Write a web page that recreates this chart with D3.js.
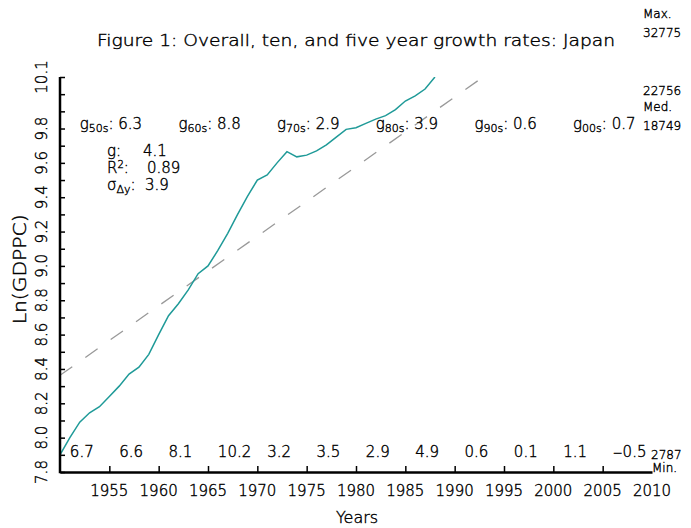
<!DOCTYPE html>
<html><head><meta charset="utf-8">
<script src="https://cdn.jsdelivr.net/npm/d3@7/dist/d3.min.js"></script>
<style>
html,body{margin:0;padding:0;background:#fff;}
svg{display:block;font-family:"DejaVu Sans",sans-serif;font-weight:200;}
svg text{fill:#000;stroke:#000;stroke-width:0.4px;}
</style></head>
<body><svg id="chart" width="691" height="528"></svg>
<script>
// ---- data ----
const years = [1950,1951,1952,1953,1954,1955,1956,1957,1958,1959,1960,1961,1962,1963,1964,1965,1966,1967,1968,1969,1970,1971,1972,1973,1974,1975,1976,1977,1978,1979,1980,1981,1982,1983,1984,1985,1986,1987,1988];
const lnGdppc = [7.90,8.00,8.09,8.145,8.18,8.24,8.30,8.37,8.41,8.485,8.60,8.71,8.78,8.86,8.955,9.00,9.09,9.19,9.30,9.405,9.50,9.53,9.60,9.665,9.635,9.645,9.67,9.705,9.75,9.795,9.805,9.83,9.855,9.875,9.91,9.96,9.99,10.03,10.10];
const trendIntercept = 8.363;   // fitted value in 1950
const trendSlope = 0.0405;      // per year
const decadeNames = ["50s","60s","70s","80s","90s","00s"];
const decadeGrowth = ["6.3","8.8","2.9","3.9","0.6","0.7"];
const fiveYearGrowth = ["6.7","6.6","8.1","10.2","3.2","3.5","2.9","4.9","0.6","0.1","1.1","\u22120.5"];
const statNames = ["g", "R2", "sigma"];
const statValues = ["4.1","0.89","3.9"];
const xTickYears = [1955,1960,1965,1970,1975,1980,1985,1990,1995,2000,2005,2010];
const yTickLabels = ["7.8","8.0","8.2","8.4","8.6","8.8","9.0","9.2","9.4","9.6","9.8","10.1"];
const summaryLabels = ["Max.","Med.","Min."];
const summaryValues = [32775, 18749, 2787];
const extraValue = 22756;
const titleText = "Figure 1: Overall, ten, and five year growth rates: Japan";

// ---- layout ----
const svg = d3.select("#chart");
const x = d3.scaleLinear().domain([1950,2010]).range([60,652]);
const y = d3.scaleLinear().domain([7.8,10.1]).range([472,77]);
const teal = "#1f9a98";

svg.append("rect").attr("width",691).attr("height",528).attr("fill","#fff");

svg.append("defs").append("clipPath").attr("id","plotclip")
  .append("rect").attr("x",x(1950)).attr("y",y(10.1)).attr("width",x(2010)-x(1950)).attr("height",y(7.8)-y(10.1));

// title
svg.append("text").attr("x",356).attr("y",46).attr("text-anchor","middle")
  .attr("font-size",16).attr("textLength",518).attr("lengthAdjust","spacingAndGlyphs")
  .text(titleText);

// trend line
const trendYears = [1950, 2010];
svg.append("path")
  .datum(trendYears)
  .attr("clip-path","url(#plotclip)")
  .attr("d", d3.line().x(d=>x(d)).y(d=>y(trendIntercept + trendSlope*(d-1950))))
  .attr("fill","none").attr("stroke","#999").attr("stroke-width",1.3)
  .attr("stroke-dasharray","15,16");

// data line
svg.append("path")
  .datum(years.map((yr,i)=>[yr,lnGdppc[i]]))
  .attr("clip-path","url(#plotclip)")
  .attr("d", d3.line().x(d=>x(d[0])).y(d=>y(d[1])))
  .attr("fill","none").attr("stroke",teal).attr("stroke-width",1.5);

// y axis ticks (every 0.1)
const yTickVals = d3.range(78,102).map(v=>v/10);
const yAxis = d3.axisLeft(y).tickValues(yTickVals).tickSizeInner(-5).tickSizeOuter(0).tickFormat("");
const gy = svg.append("g").attr("transform",`translate(${x(1950)},0)`).call(yAxis);
gy.selectAll(".tick line").attr("stroke","#000").attr("stroke-width",1.5);
gy.select(".domain").attr("stroke","#000").attr("stroke-width",2.5);
gy.select(".domain").attr("d",`M0,${y(7.8)+1.2}V${y(10.1)}`);

// y tick labels (rotated)
svg.append("g").selectAll("text").data(yTickLabels).join("text")
  .attr("transform",d=>`translate(47,${y(+d)}) rotate(-90)`)
  .attr("text-anchor","middle").attr("font-size",15).text(d=>d);

// y title
svg.append("text").attr("transform",`translate(26,${y(8.98)}) rotate(-90)`)
  .attr("text-anchor","middle").attr("font-size",17)
  .attr("textLength",110).attr("lengthAdjust","spacingAndGlyphs").text("Ln(GDPPC)");

// x axis
const xAxis = d3.axisBottom(x).tickValues(xTickYears.filter(v=>v<2010)).tickSizeInner(-6).tickSizeOuter(0).tickFormat("");
const gx = svg.append("g").attr("transform",`translate(0,${y(7.8)})`).call(xAxis);
gx.selectAll(".tick line").attr("stroke","#000").attr("stroke-width",1.5);
gx.select(".domain").attr("stroke","#000").attr("stroke-width",2.5);

svg.append("g").selectAll("text").data(xTickYears).join("text")
  .attr("x",d=>x(d)).attr("y",496).attr("text-anchor","middle").attr("font-size",15).text(d=>d);
svg.append("text").attr("x",357).attr("y",523).attr("text-anchor","middle").attr("font-size",16).text("Years");

// decade growth labels
const dec = svg.append("g").selectAll("text").data(decadeNames).join("text")
  .attr("x",(d,i)=>x(1952+10*i)).attr("y",129).attr("font-size",15);
dec.append("tspan").text("g");
dec.append("tspan").attr("font-size",11).attr("dy",3).text(d=>d);
dec.append("tspan").attr("dy",-3).text((d,i)=>": "+decadeGrowth[i]);

// five-year growth labels
const fy = svg.append("g").selectAll("text").data(fiveYearGrowth).join("text")
  .attr("x",(d,i)=>x(1951+5*i)).attr("y",457).attr("font-size",15);
fy.each(function(d){
  const t = d3.select(this);
  if (d.startsWith("\u2212")) {
    t.append("tspan").attr("font-size",12).text("\u2212");
    t.append("tspan").text(d.slice(1));
  } else t.text(d);
});

// stats block
const statY = [156, 173, 190];
const statX = 107;
const sg = svg.append("g").attr("font-size",15);
const t0 = sg.append("text").attr("x",statX).attr("y",statY[0]);
t0.append("tspan").text("g:");
sg.append("text").attr("x",143).attr("y",statY[0]).text(statValues[0]);
const t1 = sg.append("text").attr("x",statX).attr("y",statY[1]);
t1.append("tspan").text("R");
t1.append("tspan").attr("font-size",10).attr("dy",-5).text("2");
t1.append("tspan").attr("dy",5).text(":");
sg.append("text").attr("x",147).attr("y",statY[1]).text(statValues[1]);
const t2 = sg.append("text").attr("x",statX).attr("y",statY[2]);
t2.append("tspan").text("\u03c3");
t2.append("tspan").attr("font-size",11).attr("dy",3).text("\u0394y");
t2.append("tspan").attr("dy",-3).text(":");
sg.append("text").attr("x",145).attr("y",statY[2]).text(statValues[2]);

// right-side summary labels
const rs = svg.append("g").attr("font-size",12);
rs.append("text").attr("x",643).attr("y",y(Math.log(summaryValues[0]))+11).text(summaryValues[0]);
rs.append("text").attr("x",643).attr("y",y(Math.log(summaryValues[0]))-8).text(summaryLabels[0]);
rs.append("text").attr("x",643).attr("y",y(Math.log(extraValue))+6).text(extraValue);
rs.append("text").attr("x",643).attr("y",y(Math.log(summaryValues[1]))+8).text(summaryValues[1]);
rs.append("text").attr("x",643).attr("y",y(Math.log(summaryValues[1]))-11).text(summaryLabels[1]);
rs.append("text").attr("x",651).attr("y",y(Math.log(summaryValues[2]))+10).text(summaryValues[2]);
rs.append("text").attr("x",652).attr("y",y(Math.log(summaryValues[2]))+23).text(summaryLabels[2]);
</script></body></html>
